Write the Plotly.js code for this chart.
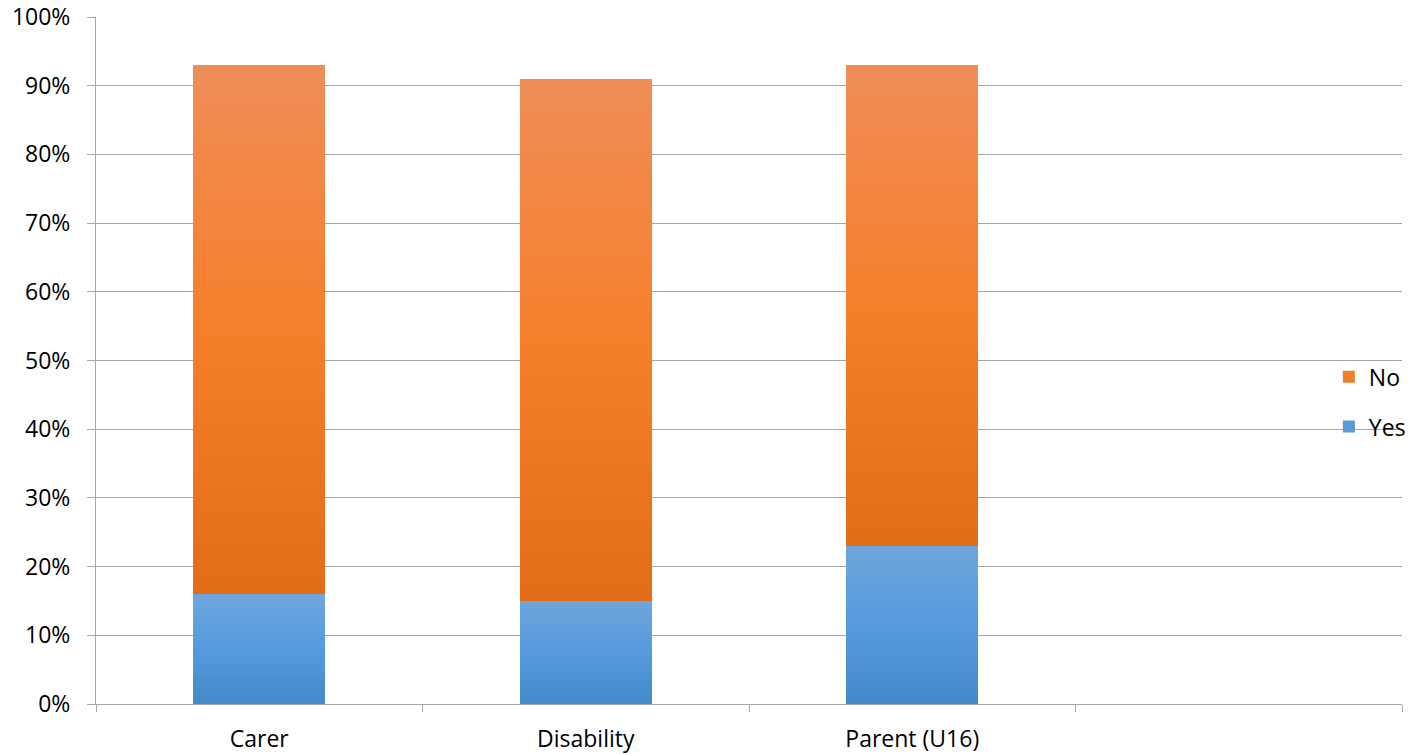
<!DOCTYPE html>
<html>
<head>
<meta charset="utf-8">
<script src="https://cdn.plot.ly/plotly-3.0.1.min.js"></script>
<style>
  html, body { margin: 0; padding: 0; background: #ffffff; }
  #chart { width: 1414px; height: 754px; }
</style>
</head>
<body>
<div id="chart"></div>
<script>
// Survey responses by group (percent of respondents)
const categories = ["Carer", "Disability", "Parent (U16)", " "];
const yesValues = [16, 15, 23, null];
const noValues = [77, 76, 70, null];
const yTickVals = [0, 10, 20, 30, 40, 50, 60, 70, 80, 90, 100];
const yTickText = ["0%", "10%", "20%", "30%", "40%", "50%", "60%", "70%", "80%", "90%", "100%"];

const FONT = "Open Sans, Noto Sans, sans-serif";
const FONT_SIZE = 23;
const GRID = "#a6a6a6";

const traces = [
  {
    type: "bar",
    name: "Yes",
    x: categories,
    y: yesValues,
    legendgroup: "yes",
    legendrank: 2,
    marker: { color: "#5b9bd5", line: { width: 0 } },
    hoverinfo: "skip"
  },
  {
    type: "bar",
    name: "No",
    x: categories,
    y: noValues,
    legendgroup: "no",
    legendrank: 1,
    marker: { color: "#f07f2d", line: { width: 0 } },
    hoverinfo: "skip"
  }
];

const layout = {
  width: 1414,
  height: 754,
  margin: { l: 96, r: 12, t: 17, b: 50, pad: 0, autoexpand: false },
  paper_bgcolor: "#ffffff",
  plot_bgcolor: "#ffffff",
  barmode: "stack",
  bargap: 0.596,
  font: { family: FONT, size: FONT_SIZE, color: "#000000" },
  showlegend: true,
  legend: {
    x: 0.944,
    xanchor: "left",
    y: 0.44,
    yanchor: "middle",
    traceorder: "grouped",
    tracegroupgap: 17,
    bgcolor: "rgba(0,0,0,0)",
    font: { family: FONT, size: FONT_SIZE, color: "#000000" },
    itemwidth: 30
  },
  xaxis: {
    type: "category",
    categoryorder: "array",
    categoryarray: categories,
    range: [-0.5, 3.5],
    tickson: "boundaries",
    ticks: "outside",
    ticklen: 7,
    tickcolor: GRID,
    tickwidth: 1,
    showline: true,
    linecolor: GRID,
    linewidth: 1,
    showgrid: false,
    zeroline: false,
    ticklabelstandoff: 14,
    tickfont: { family: FONT, size: FONT_SIZE, color: "#000000" },
    fixedrange: true
  },
  yaxis: {
    range: [0, 100],
    tickvals: yTickVals,
    ticktext: yTickText,
    ticks: "outside",
    ticklen: 8,
    tickcolor: GRID,
    tickwidth: 1,
    showline: true,
    linecolor: GRID,
    linewidth: 1,
    showgrid: true,
    gridcolor: GRID,
    gridwidth: 1,
    zeroline: false,
    ticklabelstandoff: 12,
    tickfont: { family: FONT, size: FONT_SIZE, color: "#000000" },
    fixedrange: true
  }
};

// Vertical colour ramps applied to each bar segment
const gradients = {
  Yes: [["0%", "#6fa6dc"], ["50%", "#559ade"], ["100%", "#428ac9"]],
  No: [["0%", "#f08d58"], ["50%", "#f57f2b"], ["100%", "#e36c19"]]
};

function applyGradients(gd) {
  const svg = gd.querySelector("svg.main-svg");
  if (!svg) return;
  const ns = "http://www.w3.org/2000/svg";
  let defs = svg.querySelector("defs");
  if (!defs) {
    defs = document.createElementNS(ns, "defs");
    svg.insertBefore(defs, svg.firstChild);
  }
  Object.keys(gradients).forEach(function (name) {
    const id = "barfill-" + name;
    if (!defs.querySelector("#" + id)) {
      const lg = document.createElementNS(ns, "linearGradient");
      lg.setAttribute("id", id);
      lg.setAttribute("x1", "0"); lg.setAttribute("y1", "0");
      lg.setAttribute("x2", "0"); lg.setAttribute("y2", "1");
      gradients[name].forEach(function (s) {
        const st = document.createElementNS(ns, "stop");
        st.setAttribute("offset", s[0]);
        st.setAttribute("stop-color", s[1]);
        lg.appendChild(st);
      });
      defs.appendChild(lg);
    }
  });
  const groups = gd.querySelectorAll(".barlayer .trace.bars");
  groups.forEach(function (g, i) {
    const name = gd.data[i] ? gd.data[i].name : null;
    if (!name || !gradients[name]) return;
    g.querySelectorAll("path").forEach(function (p) {
      p.style.fill = "url(#barfill-" + name + ")";
    });
  });
}

Plotly.newPlot("chart", traces, layout, { displayModeBar: false, staticPlot: true }).then(function (gd) {
  applyGradients(gd);
  gd.on("plotly_afterplot", function () { applyGradients(gd); });
});
</script>
</body>
</html>
